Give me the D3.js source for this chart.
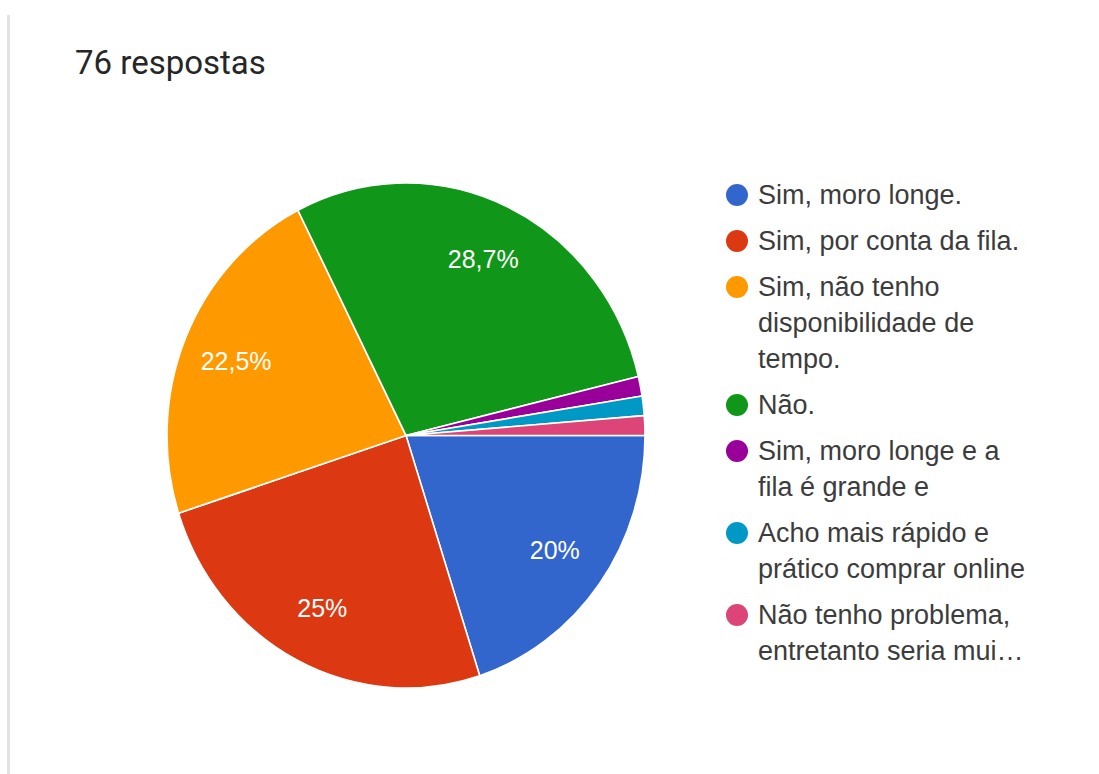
<!DOCTYPE html>
<html lang="pt">
<head>
<meta charset="utf-8">
<script src="https://cdn.jsdelivr.net/npm/d3@7"></script>
<style>
  html, body { margin: 0; padding: 0; background: #fff; }
  svg { display: block; }
</style>
</head>
<body>
<svg id="chart" width="1099" height="774"></svg>
<script>
// Respostas por opção (percentual do total de seleções)
const categories = [
  "Sim, moro longe.",
  "Sim, por conta da fila.",
  "Sim, não tenho disponibilidade de tempo.",
  "Não.",
  "Sim, moro longe e a fila é grande e",
  "Acho mais rápido e prático comprar online",
  "Não tenho problema, entretanto seria mui…"
];
const legendLines = [
  ["Sim, moro longe."],
  ["Sim, por conta da fila."],
  ["Sim, não tenho", "disponibilidade de", "tempo."],
  ["Não."],
  ["Sim, moro longe e a", "fila é grande e"],
  ["Acho mais rápido e", "prático comprar online"],
  ["Não tenho problema,", "entretanto seria mui…"]
];
const shares = [20, 25, 22.5, 28.7, 1.25, 1.25, 1.25];
const colors = ["#3366cc", "#dc3912", "#ff9900", "#109618", "#990099", "#0099c6", "#dd4477"];
const title = "76 respostas";

const svg = d3.select("#chart");

// card edge on the left
svg.append("rect")
  .attr("x", 7).attr("y", 15).attr("width", 3).attr("height", 759)
  .attr("fill", "#e2e2e2");

svg.append("text")
  .attr("x", 75).attr("y", 74)
  .attr("font-family", "Roboto, 'Noto Sans', sans-serif")
  .attr("font-size", 33)
  .attr("fill", "#262626")
  .text(title);

// pie, starting at 3 o'clock and running clockwise
const cx = 406, cy = 435.5, r = 239, sy = 1.0565;
const pie = d3.pie().sort(null).value(d => d)
  .startAngle(Math.PI / 2).endAngle(Math.PI / 2 + 2 * Math.PI);
const arcs = pie(shares);
const arc = d3.arc().innerRadius(0).outerRadius(r);
const labelArc = d3.arc().innerRadius(r * 0.77).outerRadius(r * 0.77);

const g = svg.append("g")
  .attr("transform", `translate(${cx},${cy}) scale(1,${sy})`);

g.selectAll("path")
  .data(arcs)
  .join("path")
  .attr("d", arc)
  .attr("fill", (d, i) => colors[i])
  .attr("stroke", "#fff")
  .attr("stroke-width", 1.6)
  .attr("stroke-linejoin", "round");

const fmt = v => String(Math.floor(v * 10 + 1e-9) / 10).replace(".", ",") + "%";
const total = d3.sum(shares);

svg.append("g")
  .selectAll("text")
  .data(arcs.filter(d => d.value / total >= 0.05))
  .join("text")
  .attr("x", d => cx + labelArc.centroid(d)[0])
  .attr("y", d => cy + labelArc.centroid(d)[1] * sy)
  .attr("dy", "0.35em")
  .attr("text-anchor", "middle")
  .attr("font-family", "Arial, 'Liberation Sans', sans-serif")
  .attr("font-size", 25)
  .attr("fill", "#fff")
  .text(d => fmt(d.value / total * 100));

// legend
const legendX = 737, textX = 758, firstY = 195, lineStep = 36, entryGap = 46;
const legend = svg.append("g");
let y = firstY;
legendLines.forEach((lines, i) => {
  const item = legend.append("g");
  item.append("circle")
    .attr("cx", legendX).attr("cy", y).attr("r", 11)
    .attr("fill", colors[i]);
  const t = item.append("text")
    .attr("font-family", "Arial, 'Liberation Sans', sans-serif")
    .attr("font-size", 27)
    .attr("fill", "#3c3c3c");
  lines.forEach((line, j) => {
    t.append("tspan")
      .attr("x", textX)
      .attr("y", y + j * lineStep)
      .attr("dy", "0.35em")
      .text(line);
  });
  y += (lines.length - 1) * lineStep + entryGap;
});
</script>
</body>
</html>
